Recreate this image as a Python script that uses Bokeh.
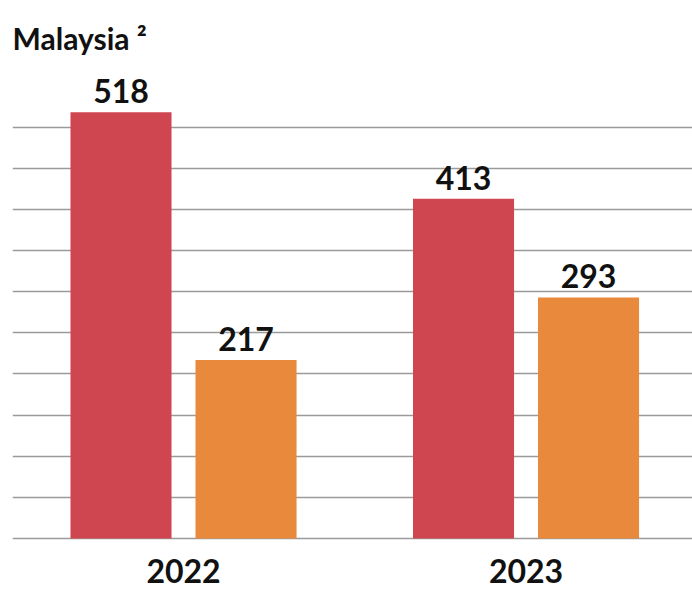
from bokeh.plotting import figure
from bokeh.models import ColumnDataSource, Range1d, FixedTicker, LabelSet
from bokeh.core.properties import value
from bokeh.transform import dodge
from bokeh.embed import file_html
from bokeh.resources import INLINE

years = ["2022", "2023"]
series_a = [518, 413]
series_b = [217, 293]
grid_ticks = list(range(0, 501, 50))

red = "#CF4651"
orange = "#E8893C"
font = "Lato"

src = ColumnDataSource(dict(
    x=list(range(len(years))),
    year=years,
    a=series_a,
    b=series_b,
    a_txt=[str(v) for v in series_a],
    b_txt=[str(v) for v in series_b],
    zero=[0] * len(years),
))

p = figure(width=692, height=590, output_backend="svg", toolbar_location=None,
           x_range=Range1d(-0.4993, 1.486), y_range=Range1d(-63.2, 581),
           min_border_left=12, min_border_right=0, min_border_top=60, min_border_bottom=0)
p.outline_line_color = None
p.xaxis.visible = False
p.yaxis.visible = False
p.xgrid.grid_line_color = None
p.ygrid.ticker = FixedTicker(ticks=grid_ticks)
p.ygrid.grid_line_color = "#9a9a9a"
p.ygrid.grid_line_width = 1.5

p.title.text = "Malaysia ²"
p.title.text_font = font
p.title.text_font_size = "30px"
p.title.text_font_style = "bold"
p.title.text_color = "#111111"
p.title.standoff = 10

w = 0.295
off = 0.1825
p.vbar(x=dodge("x", -off), top="a", bottom=0, width=w, source=src, color=red, line_color=None)
p.vbar(x=dodge("x", off), top="b", bottom=0, width=w, source=src, color=orange, line_color=None)

for col, txt, d in (("a", "a_txt", -off), ("b", "b_txt", off)):
    p.add_layout(LabelSet(x=dodge("x", d), y=col, text=txt, source=src, y_offset=9,
                          text_align="center", text_baseline="alphabetic",
                          text_font=value(font), text_font_style="bold", text_font_size="32px",
                          text_color="#111111"))

p.add_layout(LabelSet(x="x", y="zero", text="year", source=src, y_offset=-44,
                      text_align="center", text_baseline="alphabetic",
                      text_font=value(font), text_font_style="bold", text_font_size="32px",
                      text_color="#111111"))

open("out.html", "w").write(file_html(p, INLINE))
